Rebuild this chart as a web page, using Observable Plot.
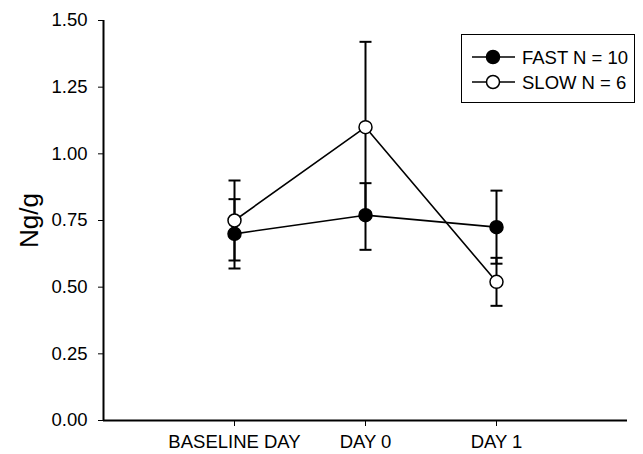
<!DOCTYPE html>
<html><head><meta charset="utf-8">
<script src="https://cdn.jsdelivr.net/npm/d3@7"></script>
<script src="https://cdn.jsdelivr.net/npm/@observablehq/plot@0.6"></script>
<style>
body{margin:0;background:#fff;font-family:"Liberation Sans",Arial,sans-serif;}
#wrap{position:relative;width:643px;height:454px;}
#legend{position:absolute;left:461px;top:34px;width:174px;height:69px;border:1.5px solid #000;box-sizing:border-box;background:#fff}
#legend svg{display:block}
</style></head><body><div id="wrap"></div>
<script>
const days = ["BASELINE DAY", "DAY 0", "DAY 1"];
const groups = ["FAST N = 10", "SLOW N = 6"];
const fastMean = [0.70, 0.77, 0.725];
const fastLow  = [0.57, 0.64, 0.588];
const fastHigh = [0.83, 0.89, 0.862];
const slowMean = [0.75, 1.10, 0.52];
const slowLow  = [0.60, 0.78, 0.43];
const slowHigh = [0.90, 1.42, 0.61];
const yTicks = [0, 0.25, 0.5, 0.75, 1, 1.25, 1.5];

const fast = days.map((d, i) => ({pos: i + 1, day: d, group: groups[0], mean: fastMean[i], low: fastLow[i], high: fastHigh[i]}));
const slow = days.map((d, i) => ({pos: i + 1, day: d, group: groups[1], mean: slowMean[i], low: slowLow[i], high: slowHigh[i]}));
const all = fast.concat(slow);
const caps = all.flatMap(d => [{pos: d.pos, v: d.low}, {pos: d.pos, v: d.high}]);

const capSymbol = {draw(ctx) { ctx.moveTo(-6, 0); ctx.lineTo(6, 0); }};

const chart = Plot.plot({
  width: 643, height: 454,
  marginLeft: 103, marginRight: 16, marginTop: 20, marginBottom: 34,
  style: {fontFamily: '"Liberation Sans", Arial, sans-serif', fontSize: "18.5px", color: "#000", background: "#fff", overflow: "visible"},
  x: {domain: [0, 4], ticks: [1, 2, 3], tickFormat: d => days[d - 1], tickSize: 6, tickPadding: 8, label: null},
  y: {domain: [0, 1.5], ticks: yTicks, tickFormat: d3.format(".2f"), tickSize: 5, tickPadding: 11, label: null},
  marks: [
    Plot.ruleX([0], {stroke: "#000", strokeWidth: 2}),
    Plot.ruleY([0], {stroke: "#000", strokeWidth: 2}),
    Plot.line(fast, {x: "pos", y: "mean", stroke: "#000", strokeWidth: 1.6}),
    Plot.line(slow, {x: "pos", y: "mean", stroke: "#000", strokeWidth: 1.6}),
    Plot.ruleX(all, {x: "pos", y1: "low", y2: "high", stroke: "#000", strokeWidth: 2}),
    Plot.dot(caps, {x: "pos", y: "v", symbol: capSymbol, stroke: "#000", fill: "none", strokeWidth: 2}),
    Plot.dot(fast, {x: "pos", y: "mean", r: 6.5, fill: "#000", stroke: "#000", strokeWidth: 1.5}),
    Plot.dot(slow, {x: "pos", y: "mean", r: 6.5, fill: "#fff", stroke: "#000", strokeWidth: 1.5}),
    Plot.text(["Ng/g"], {frameAnchor: "left", textAnchor: "middle", rotate: -90, dx: -74, fontSize: 26, fill: "#000"})
  ]
});
const wrap = document.getElementById("wrap");
wrap.appendChild(chart);

// legend
const leg = document.createElement("div");
leg.id = "legend";
const ns = "http://www.w3.org/2000/svg";
const svg = document.createElementNS(ns, "svg");
svg.setAttribute("width", 172); svg.setAttribute("height", 66);
groups.forEach((g, i) => {
  const y = 22 + i * 25;
  const ln = document.createElementNS(ns, "line");
  ln.setAttribute("x1", 10); ln.setAttribute("x2", 53); ln.setAttribute("y1", y); ln.setAttribute("y2", y);
  ln.setAttribute("stroke", "#000"); ln.setAttribute("stroke-width", 1.6);
  svg.appendChild(ln);
  const c = document.createElementNS(ns, "circle");
  c.setAttribute("cx", 31); c.setAttribute("cy", y); c.setAttribute("r", 6.5);
  c.setAttribute("fill", i === 0 ? "#000" : "#fff"); c.setAttribute("stroke", "#000"); c.setAttribute("stroke-width", 1.5);
  svg.appendChild(c);
  const t = document.createElementNS(ns, "text");
  t.setAttribute("x", 60); t.setAttribute("y", y); t.setAttribute("dy", "0.36em");
  t.setAttribute("font-size", 18.5); t.setAttribute("font-family", '"Liberation Sans", Arial, sans-serif');
  t.textContent = g;
  svg.appendChild(t);
});
leg.appendChild(svg);
wrap.appendChild(leg);
</script>
</body></html>
